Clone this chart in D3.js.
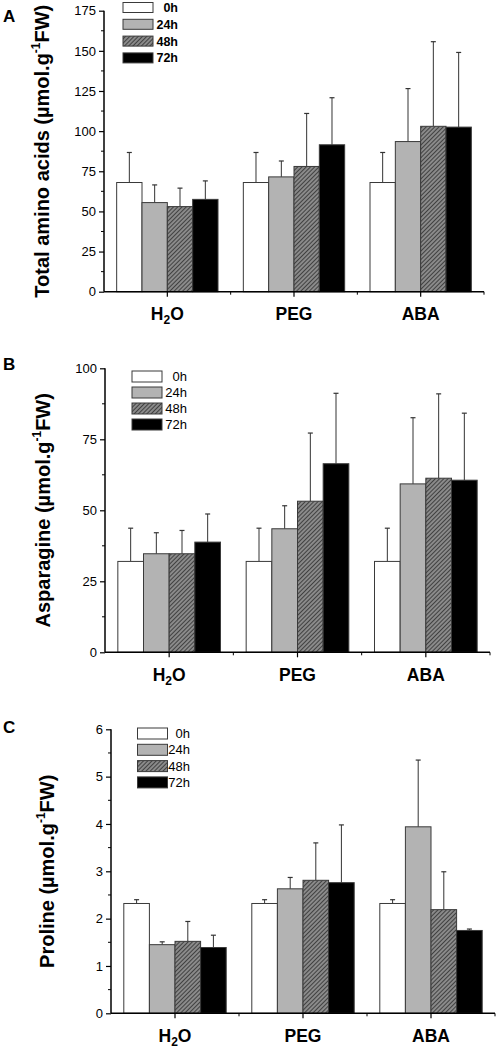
<!DOCTYPE html>
<html><head><meta charset="utf-8">
<script src="https://cdn.jsdelivr.net/npm/d3@7/dist/d3.min.js"></script>
<style>
html,body{margin:0;padding:0;background:#fff;}
svg{display:block;font-family:"Liberation Sans",Arial,sans-serif;}
</style></head><body>
<svg id="chart" width="498" height="1048"></svg>
<script>
const categories = ["H2O", "PEG", "ABA"];
const series = ["0h", "24h", "48h", "72h"];

// Panel A: Total amino acids
const totalMeans = [[68, 55.5, 53, 57.5], [68, 71.5, 78, 91.5], [68, 93.5, 103, 102.5]];
const totalErrors = [[18.7, 11, 11.5, 11.5], [18.7, 9.9, 33, 29.3], [18.7, 33, 52.7, 46.5]];
const totalTicks = [0, 25, 50, 75, 100, 125, 150, 175];

// Panel B: Asparagine
const asnMeans = [[32, 34.7, 34.7, 38.8], [32, 43.5, 53.2, 66.4], [32, 59.3, 61.3, 60.6]];
const asnErrors = [[11.7, 7.4, 8.2, 9.9], [11.7, 8.1, 24, 24.8], [11.7, 23.3, 29.7, 23.6]];
const asnTicks = [0, 25, 50, 75, 100];

// Panel C: Proline
const proMeans = [[2.32, 1.45, 1.52, 1.39], [2.32, 2.63, 2.81, 2.76], [2.32, 3.94, 2.19, 1.75]];
const proErrors = [[0.08, 0.06, 0.42, 0.26], [0.08, 0.24, 0.79, 1.22], [0.08, 1.41, 0.8, 0.03]];
const proTicks = [0, 1, 2, 3, 4, 5, 6];

const svg = d3.select("#chart");
const defs = svg.append("defs");
const pat = defs.append("pattern").attr("id", "hatch").attr("patternUnits", "userSpaceOnUse")
  .attr("width", 3).attr("height", 3).attr("patternTransform", "rotate(45)");
pat.append("rect").attr("width", 3).attr("height", 3).attr("fill", "#8a8a8a");
pat.append("line").attr("x1", 0).attr("y1", 0).attr("x2", 0).attr("y2", 3)
  .attr("stroke", "#2e2e2e").attr("stroke-width", 1.6);

const fills = ["#ffffff", "#b3b3b3", "url(#hatch)", "#000000"];

const panels = [
  {letter: "A", means: totalMeans, errors: totalErrors, ticks: totalTicks, max: 175, minor: 12.5,
   x0: 104, x1: 484, yTop: 10.7, yBot: 291.7, title: "Total amino acids (µmol.g", titleX: 42,
   legX: 123, legY: 2.5, legStep: 16.8, legH: 10, legTextX: 178, legBold: true, letterY: 22},
  {letter: "B", means: asnMeans, errors: asnErrors, ticks: asnTicks, max: 100, minor: 12.5,
   x0: 105, x1: 490, yTop: 368.3, yBot: 652.3, title: "Asparagine (µmol.g", titleX: 43,
   legX: 132, legY: 371, legStep: 16, legH: 11, legTextX: 187, legBold: false, letterY: 370},
  {letter: "C", means: proMeans, errors: proErrors, ticks: proTicks, max: 6, minor: 0.5,
   x0: 111, x1: 495, yTop: 729.3, yBot: 1013.3, title: "Proline (µmol.g", titleX: 47,
   legX: 137.5, legY: 728, legStep: 16.3, legH: 11, legTextX: 190, legBold: false, letterY: 733}
];

panels.forEach(p => {
  const g = svg.append("g");
  const y = d3.scaleLinear().domain([0, p.max]).range([p.yBot, p.yTop]);
  const x = d3.scaleBand().domain(categories).range([p.x0, p.x1]).paddingInner(0.2).paddingOuter(0.1);
  const xs = d3.scaleBand().domain(series).range([0, x.bandwidth()]).padding(0);
  const step = x.step();

  // bars + error bars
  categories.forEach((c, ci) => {
    const cg = g.append("g").attr("transform", `translate(${x(c)},0)`);
    series.forEach((s, si) => {
      const v = p.means[ci][si], e = p.errors[ci][si];
      const bx = xs(s), bw = xs.bandwidth();
      const cx = bx + bw / 2;
      cg.append("line").attr("x1", cx).attr("x2", cx).attr("y1", y(v)).attr("y2", y(v + e))
        .attr("stroke", "#333").attr("stroke-width", 1);
      cg.append("line").attr("x1", cx - 2.5).attr("x2", cx + 2.5).attr("y1", y(v + e)).attr("y2", y(v + e))
        .attr("stroke", "#333").attr("stroke-width", 1.2);
      cg.append("rect").attr("x", bx).attr("y", y(v)).attr("width", bw).attr("height", y(0) - y(v))
        .attr("fill", fills[si]).attr("stroke", "#3a3a3a").attr("stroke-width", 1);
    });
  });

  // y axis
  const ya = g.append("g").attr("transform", `translate(${p.x0},0)`)
    .call(d3.axisLeft(y).tickValues(p.ticks).tickSize(5).tickPadding(3).tickFormat(d3.format("d")));
  ya.select(".domain").attr("stroke", "#000").attr("stroke-width", 1.5).attr("d", `M0,${p.yBot}V${p.yTop}`);
  ya.selectAll(".tick line").attr("stroke", "#000").attr("stroke-width", 1.2);
  ya.selectAll(".tick text").attr("font-size", 13).attr("fill", "#000")
    .attr("font-family", "Liberation Sans, Arial, sans-serif");
  const minors = d3.range(p.minor, p.max, p.minor * 2);
  ya.selectAll(".minor").data(minors).join("line").attr("class", "minor")
    .attr("x1", 0).attr("x2", -3).attr("y1", d => y(d)).attr("y2", d => y(d))
    .attr("stroke", "#000").attr("stroke-width", 1);

  // x axis
  const xa = g.append("g").attr("transform", `translate(0,${p.yBot})`)
    .call(d3.axisBottom(x).tickSize(5).tickPadding(10).tickFormat(""));
  xa.select(".domain").attr("stroke", "#000").attr("stroke-width", 1.5).attr("d", `M${p.x0},0H${p.x1}`);
  xa.selectAll(".tick line").attr("stroke", "#000").attr("stroke-width", 1.2);
  const bounds = d3.range(1, categories.length + 1).map(i => p.x0 + i * step);
  xa.selectAll(".minor").data(bounds).join("line").attr("class", "minor")
    .attr("x1", d => d).attr("x2", d => d).attr("y1", 0).attr("y2", 3)
    .attr("stroke", "#000").attr("stroke-width", 1);
  const lab = xa.selectAll(".clab").data(categories).join("text").attr("class", "clab")
    .attr("x", d => x(d) + x.bandwidth() / 2).attr("y", 28.5)
    .attr("text-anchor", "middle").attr("font-size", 17.5).attr("font-weight", "bold").attr("fill", "#000");
  lab.each(function(d) {
    const t = d3.select(this);
    if (d === "H2O") {
      t.append("tspan").text("H");
      t.append("tspan").text("2").attr("font-size", 12).attr("dy", 4);
      t.append("tspan").text("O").attr("dy", -4);
    } else t.text(d);
  });

  // y title
  const ty = (p.yTop + p.yBot) / 2;
  const tt = g.append("text").attr("transform", `translate(${p.titleX + 7},${ty}) rotate(-90)`)
    .attr("text-anchor", "middle").attr("font-size", 20).attr("font-weight", "bold").attr("fill", "#000");
  tt.append("tspan").text(p.title);
  tt.append("tspan").text("-1").attr("font-size", 12).attr("dy", -9);
  tt.append("tspan").text("FW)").attr("dy", 9);

  // panel letter
  g.append("text").attr("x", 3).attr("y", p.letterY).attr("font-size", 17).attr("font-weight", "bold")
    .attr("fill", "#000").text(p.letter);

  // legend
  const lg = g.append("g");
  series.forEach((s, si) => {
    const ly = p.legY + si * p.legStep;
    lg.append("rect").attr("x", p.legX).attr("y", ly).attr("width", 30).attr("height", p.legH)
      .attr("fill", fills[si]).attr("stroke", "#3a3a3a").attr("stroke-width", 1);
    lg.append("text").attr("x", p.legTextX).attr("y", ly + p.legH / 2 + 4.5)
      .attr("text-anchor", "end").attr("font-size", p.legBold ? 12.5 : 13).attr("font-weight", p.legBold ? "bold" : "normal")
      .attr("fill", "#000").text(s);
  });
});
</script>
</body></html>
